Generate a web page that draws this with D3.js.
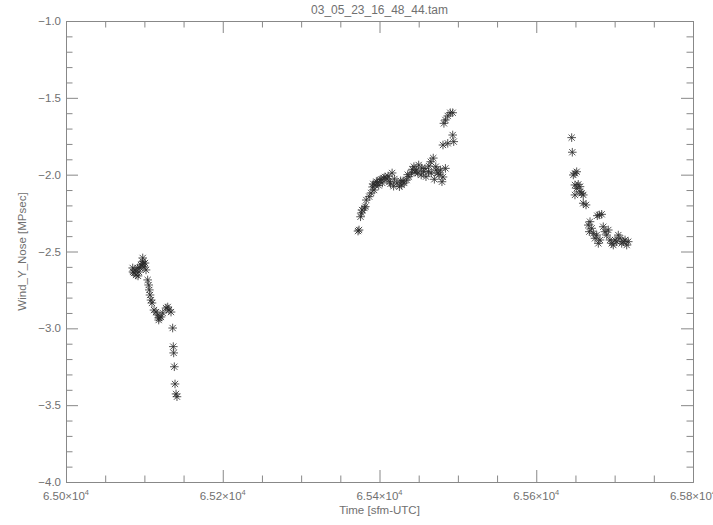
<!DOCTYPE html>
<html>
<head>
<meta charset="utf-8">
<script src="https://cdn.jsdelivr.net/npm/d3@7"></script>
<style>
  html, body { margin: 0; padding: 0; background: #fff; }
  svg { display: block; }
  text { font-family: "Liberation Sans", Arial, sans-serif; fill: #707070; }
</style>
</head>
<body>
<div id="chart"></div>
<script>
const titleText = "03_05_23_16_48_44.tam";
const xLabel = "Time [sfm-UTC]";
const yLabel = "Wind_Y_Nose [MPsec]";

const xMajorTicks = [65000, 65200, 65400, 65600, 65800];
const xTickLabels = ["6.50", "6.52", "6.54", "6.56", "6.58"];
const yMajorTicks = [-1.0, -1.5, -2.0, -2.5, -3.0, -3.5, -4.0];
const yTickLabels = ["\u22121.0", "\u22121.5", "\u22122.0", "\u22122.5", "\u22123.0", "\u22123.5", "\u22124.0"];

// Segment 1
const time1 = [65085.1, 65085.5, 65086.8, 65088.0, 65089.3, 65091.5, 65091.9, 65093.1, 65094.4, 65095.7,
  65097.9, 65098.2, 65097.9, 65099.5, 65100.8, 65102.1, 65104.2, 65105.5, 65106.3, 65107.2,
  65108.5, 65109.7, 65112.3, 65114.8, 65117.0, 65118.3, 65118.7, 65121.2, 65123.4, 65127.6,
  65129.8, 65131.4, 65134.0, 65136.1, 65136.9, 65137.4, 65138.2, 65139.1, 65140.4, 65141.6];
const wind1 = [-2.607, -2.633, -2.640, -2.620, -2.653, -2.607, -2.659, -2.633, -2.607, -2.588,
  -2.566, -2.581, -2.542, -2.601, -2.575, -2.620, -2.685, -2.718, -2.750, -2.783,
  -2.816, -2.835, -2.881, -2.894, -2.913, -2.946, -2.933, -2.926, -2.900, -2.868,
  -2.861, -2.881, -2.894, -2.998, -3.119, -3.160, -3.250, -3.362, -3.427, -3.445];

// Segment 2
const time2 = [65372.6, 65373.9, 65375.8, 65377.1, 65377.7, 65380.7, 65381.9, 65383.2, 65386.9, 65389.3,
  65391.2, 65393.1, 65394.3, 65397.5, 65400.5, 65403.6, 65405.5, 65409.7, 65411.0, 65412.9,
  65416.1, 65419.0, 65422.2, 65425.4, 65428.3, 65430.2, 65431.5, 65434.6, 65437.6, 65440.7,
  65443.9, 65445.4, 65447.0, 65450.0, 65453.2, 65453.8, 65456.1, 65459.3, 65462.5, 65463.1,
  65465.4, 65468.6, 65471.8, 65472.3, 65474.7, 65477.9, 65479.7, 65481.0, 65484.1, 65481.0,
  65487.1, 65493.4, 65494.7, 65484.1, 65482.2, 65487.1, 65490.3, 65493.4,
  65392.0, 65396.0, 65399.0, 65402.0, 65407.0, 65414.0, 65418.0, 65427.0, 65436.0, 65442.0,
  65449.0, 65458.0, 65466.0, 65470.0, 65476.0];
const wind2 = [-2.367, -2.360, -2.274, -2.249, -2.230, -2.217, -2.208, -2.165, -2.143, -2.119,
  -2.080, -2.100, -2.067, -2.052, -2.035, -2.054, -2.022, -2.028, -2.009, -2.046,
  -1.989, -2.028, -2.054, -2.078, -2.067, -2.041, -2.054, -2.035, -2.013, -1.989,
  -1.948, -1.983, -1.970, -1.937, -2.002, -1.957, -1.981, -2.013, -1.981, -1.944,
  -1.916, -1.892, -1.948, -1.970, -1.989, -1.970, -2.046, -2.015, -1.959, -1.807,
  -1.796, -1.742, -1.785, -1.644, -1.666, -1.618, -1.597, -1.597,
  -2.060, -2.045, -2.070, -2.030, -2.015, -2.060, -2.075, -2.040, -2.000, -1.965,
  -1.990, -1.960, -1.990, -2.030, -2.000];

// Segment 3
const time3 = [65645.2, 65646.0, 65649.4, 65647.3, 65651.6, 65649.4, 65653.6, 65651.6, 65655.8, 65649.4,
  65658.0, 65660.0, 65655.8, 65660.0, 65663.5, 65680.4, 65677.9, 65683.5, 65668.6, 65666.4,
  65670.7, 65667.7, 65672.8, 65677.1, 65675.0, 65681.3, 65679.2, 65685.5, 65687.7, 65689.9,
  65694.1, 65696.3, 65700.5, 65704.7, 65702.6, 65709.0, 65713.3, 65715.4, 65717.4, 65691.9,
  65698.3, 65706.9, 65711.1];
const wind3 = [-1.759, -1.854, -1.991, -2.002, -1.981, -2.067, -2.063, -2.089, -2.078, -2.132,
  -2.121, -2.132, -2.111, -2.186, -2.197, -2.262, -2.267, -2.258, -2.306, -2.328,
  -2.349, -2.371, -2.382, -2.393, -2.414, -2.425, -2.447, -2.339, -2.371, -2.393,
  -2.425, -2.447, -2.425, -2.393, -2.436, -2.447, -2.425, -2.458, -2.436, -2.360,
  -2.458, -2.414, -2.436];

const W = 713, H = 525;
const margin = { left: 66, right: 20, top: 21, bottom: 43 };

const svg = d3.select("#chart").append("svg")
  .attr("width", W).attr("height", H);

const x = d3.scaleLinear().domain([65000, 65800]).range([margin.left, W - margin.right]);
const y = d3.scaleLinear().domain([-4.0, -1.0]).range([H - margin.bottom, margin.top]);

const xMinor = d3.range(65000, 65800.1, 50).filter(v => v % 200 !== 0);
const yMinor = d3.range(-40, -9, 1).map(v => v / 10).filter(v => Math.round(v * 10) % 5 !== 0);

const axisColor = "#888";
function styleAxis(g) {
  g.select(".domain").attr("stroke", axisColor);
  g.selectAll(".tick line").attr("stroke", axisColor);
}

// bottom
svg.append("g").attr("transform", `translate(0,${y(-4)})`)
  .call(d3.axisBottom(x).tickValues(xMajorTicks).tickSize(-12).tickSizeOuter(0).tickFormat(""))
  .call(styleAxis);
svg.append("g").attr("transform", `translate(0,${y(-4)})`)
  .call(d3.axisBottom(x).tickValues(xMinor).tickSize(-6.5).tickSizeOuter(0).tickFormat(""))
  .call(styleAxis);
// top
svg.append("g").attr("transform", `translate(0,${y(-1)})`)
  .call(d3.axisTop(x).tickValues(xMajorTicks).tickSize(-12).tickSizeOuter(0).tickFormat(""))
  .call(styleAxis);
svg.append("g").attr("transform", `translate(0,${y(-1)})`)
  .call(d3.axisTop(x).tickValues(xMinor).tickSize(-6.5).tickSizeOuter(0).tickFormat(""))
  .call(styleAxis);
// left
svg.append("g").attr("transform", `translate(${x(65000)},0)`)
  .call(d3.axisLeft(y).tickValues(yMajorTicks).tickSize(-12).tickSizeOuter(0).tickFormat(""))
  .call(styleAxis);
svg.append("g").attr("transform", `translate(${x(65000)},0)`)
  .call(d3.axisLeft(y).tickValues(yMinor).tickSize(-6.5).tickSizeOuter(0).tickFormat(""))
  .call(styleAxis);
// right
svg.append("g").attr("transform", `translate(${x(65800)},0)`)
  .call(d3.axisRight(y).tickValues(yMajorTicks).tickSize(-12).tickSizeOuter(0).tickFormat(""))
  .call(styleAxis);
svg.append("g").attr("transform", `translate(${x(65800)},0)`)
  .call(d3.axisRight(y).tickValues(yMinor).tickSize(-6.5).tickSizeOuter(0).tickFormat(""))
  .call(styleAxis);

// x tick labels
const xl = svg.append("g").selectAll("text").data(xMajorTicks).enter().append("text")
  .attr("x", d => x(d)).attr("y", y(-4) + 18)
  .attr("text-anchor", "middle").attr("font-size", 11.5);
xl.append("tspan").text((d, i) => xTickLabels[i] + "\u00d710");
xl.append("tspan").attr("dy", -5).attr("font-size", 7.5).text("4");

// y tick labels
svg.append("g").selectAll("text").data(yMajorTicks).enter().append("text")
  .attr("x", x(65000) - 5).attr("y", d => y(d) + 4)
  .attr("text-anchor", "end").attr("font-size", 11.5)
  .text((d, i) => yTickLabels[i]);

// title
svg.append("text").attr("x", (x(65000) + x(65800)) / 2).attr("y", 14)
  .attr("text-anchor", "middle").attr("font-size", 12).text(titleText);
// x label
svg.append("text").attr("x", (x(65000) + x(65800)) / 2).attr("y", y(-4) + 32)
  .attr("text-anchor", "middle").attr("font-size", 11.5).text(xLabel);
// y label
svg.append("text")
  .attr("transform", `translate(26,${(y(-1) + y(-4)) / 2}) rotate(-90)`)
  .attr("text-anchor", "middle").attr("font-size", 11.5).text(yLabel);

// asterisk markers
const star = "M-4.3,0L4.3,0M0,-4.3L0,4.3M-3.1,-3.1L3.1,3.1M-3.1,3.1L3.1,-3.1";
const pts = [];
[[time1, wind1], [time2, wind2], [time3, wind3]].forEach(([t, w]) => {
  t.forEach((v, i) => pts.push([v, w[i]]));
});
svg.append("g").selectAll("path").data(pts).enter().append("path")
  .attr("d", star)
  .attr("transform", d => `translate(${x(d[0])},${y(d[1])})`)
  .attr("fill", "none").attr("stroke", "#2a2a2a").attr("stroke-width", 0.8);
</script>
</body>
</html>
